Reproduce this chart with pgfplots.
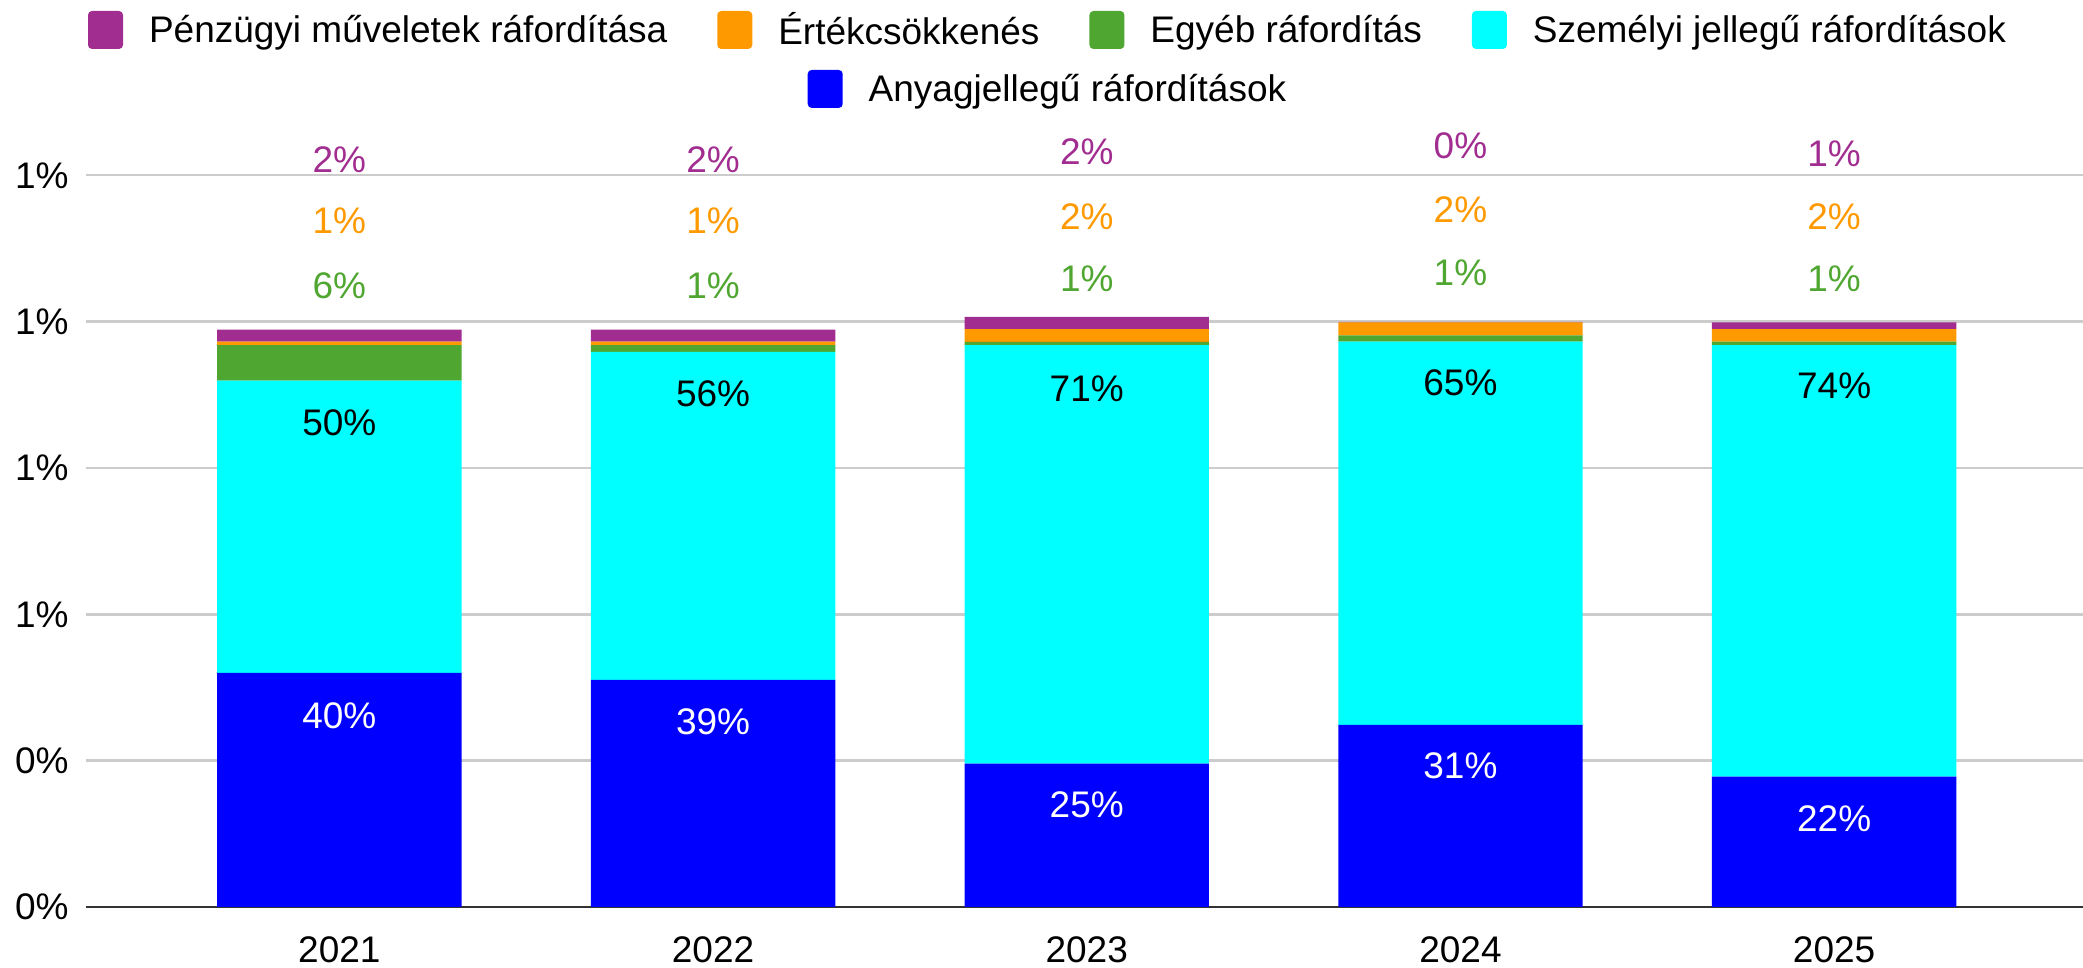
\documentclass[border=0pt]{standalone}
\usepackage{pgfplots}
\pgfplotsset{compat=1.18}
\usepackage{fontspec}
\setmainfont{Liberation Sans}

\definecolor{cPurple}{HTML}{A12D90}
\definecolor{cOrange}{HTML}{FF9900}
\definecolor{cGreen}{HTML}{4FA630}
\definecolor{cCyan}{HTML}{00FFFF}
\definecolor{cBlue}{HTML}{0000FF}
\definecolor{cGrid}{HTML}{CCCCCC}
\definecolor{cAxis}{HTML}{333333}

\newcommand\lbl{\fontsize{18.5}{22}\selectfont}

% shared geometry of the axes (0.5pt per reference pixel)
\pgfplotsset{
  base/.style={
    at={(43pt,30.5pt)}, anchor=south west,
    scale only axis, width=998.5pt, height=365.85pt,
    xmin=-0.678, xmax=4.666, ymin=0, ymax=1.25,
    clip=false,
  },
  lab/.style={draw=none, no markers, forget plot,
    every node near coord/.append style={anchor=center, inner sep=0pt, font=\lbl, text=#1}},
  legbox/.style={
    legend image code/.code={\path[##1, rounded corners=2pt] (0pt,-9.5pt) rectangle (17.5pt,9.5pt);},
    legend style={draw=none, fill=none, inner sep=0pt, font=\lbl,
      nodes={inner sep=0pt},
      /tikz/every odd column/.append style={column sep=13pt},
      /tikz/every even column/.append style={column sep=25pt}},
  },
}

\begin{document}
\begin{tikzpicture}
\useasboundingbox (0,0) rectangle (1041.5pt,484pt);

\begin{axis}[base,
  ybar stacked, bar width=122.2pt,
  xtick={0,1,2,3,4}, xticklabels={2021,2022,2023,2024,2025},
  ytick={0,0.25,0.5,0.75,1,1.25},
  yticklabels={0\%,0\%,1\%,1\%,1\%,1\%},
  /pgf/number format/assume math mode=true,
  tick label style={font=\lbl, inner sep=0pt},
  xticklabel style={anchor=north, yshift=-14.5pt},
  yticklabel style={anchor=east, xshift=-8.5pt},
  major tick length=0pt,
  ymajorgrids, grid style={cGrid, line width=1.2pt},
  axis x line*=bottom, axis y line*=left,
  x axis line style={cAxis, line width=1.3pt, -},
  y axis line style={draw=none},
]
% Anyagjellegű ráfordítások
\addplot[fill=cBlue, draw=none] coordinates {(0,0.400) (1,0.388) (2,0.2449) (3,0.3113) (4,0.2228)};
% Személyi jellegű ráfordítások
\addplot[fill=cCyan, draw=none] coordinates {(0,0.4994) (1,0.5603) (2,0.7148) (3,0.6545) (4,0.7369)};
% Egyéb ráfordítás
\addplot[fill=cGreen, draw=none] coordinates {(0,0.0603) (1,0.0114) (2,0.0057) (3,0.0106) (4,0.0062)};
% Értékcsökkenés
\addplot[fill=cOrange, draw=none] coordinates {(0,0.0063) (1,0.0063) (2,0.0217) (3,0.0222) (4,0.0212)};
% Pénzügyi műveletek ráfordítása
\addplot[fill=cPurple, draw=none] coordinates {(0,0.0205) (1,0.0205) (2,0.0210) (3,0.0010) (4,0.0116)};
\end{axis}

% data labels and first legend row
\begin{axis}[base, hide axis, legbox,
  nodes near coords, point meta=explicit symbolic,
  legend columns=4,
  legend style={at={(0.4812,1.1986)}, anchor=center},
]
\addplot[lab=white] coordinates {(0,0.326)[40\%] (1,0.3156)[39\%] (2,0.1754)[25\%] (3,0.2418)[31\%] (4,0.150)[22\%]};
\addplot[lab=black] coordinates {(0,0.8268)[50\%] (1,0.8774)[56\%] (2,0.8847)[71\%] (3,0.8953)[65\%] (4,0.890)[74\%]};
\addplot[lab=cGreen] coordinates {(0,1.062)[6\%] (1,1.062)[1\%] (2,1.074)[1\%] (3,1.084)[1\%] (4,1.073)[1\%]};
\addplot[lab=cOrange] coordinates {(0,1.173)[1\%] (1,1.173)[1\%] (2,1.180)[2\%] (3,1.191)[2\%] (4,1.180)[2\%]};
\addplot[lab=cPurple] coordinates {(0,1.277)[2\%] (1,1.277)[2\%] (2,1.290)[2\%] (3,1.300)[0\%] (4,1.287)[1\%]};
\addlegendimage{fill=cPurple, draw=none}
\addlegendentry{Pénzügyi műveletek ráfordítása}
\addlegendimage{fill=cOrange, draw=none}
\addlegendentry{Értékcsökkenés}
\addlegendimage{fill=cGreen, draw=none}
\addlegendentry{Egyéb ráfordítás}
\addlegendimage{fill=cCyan, draw=none}
\addlegendentry{Személyi jellegű ráfordítások}
\end{axis}

% second legend row
\begin{axis}[base, hide axis, legbox,
  legend style={at={(0.4812,1.118)}, anchor=center},
]
\addlegendimage{fill=cBlue, draw=none}
\addlegendentry{Anyagjellegű ráfordítások}
\end{axis}
\end{tikzpicture}
\end{document}
